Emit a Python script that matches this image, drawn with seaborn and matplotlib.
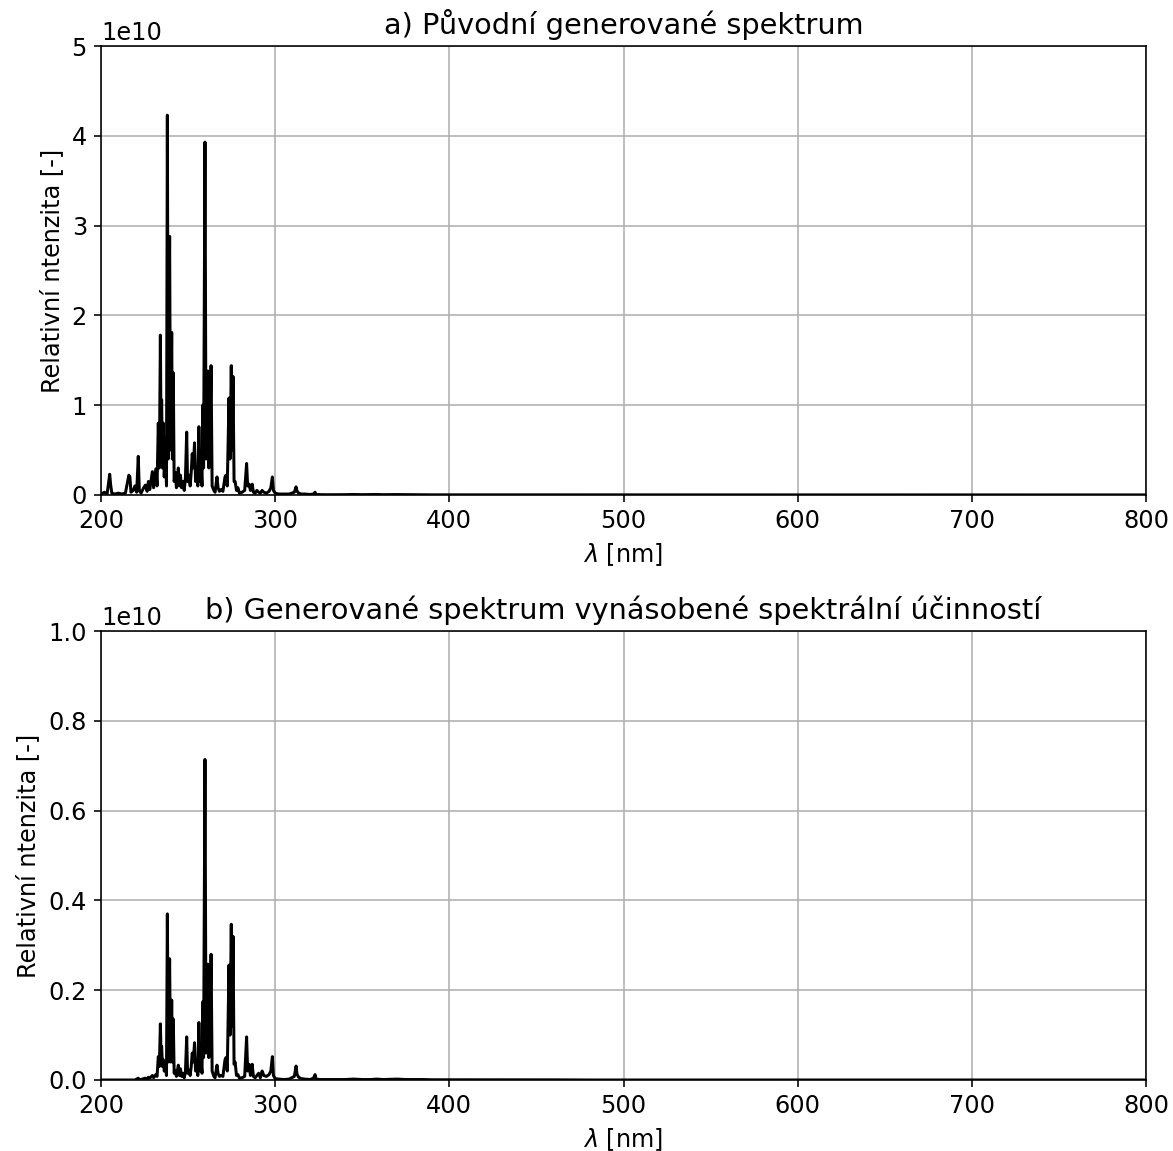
import numpy as np
import pandas as pd
import matplotlib
matplotlib.use("Agg")
import matplotlib.pyplot as plt
import seaborn as sns

# wavelength [nm] of the spectrum samples
wavelength = [
    200.0, 202.0, 203.5, 205.0, 205.5, 206.2, 208.0, 210.0, 212.0, 214.0,
    216.0, 216.6, 217.2, 218.5, 219.5, 220.5, 221.4, 222.0, 223.0, 224.5,
    225.5, 226.5, 227.2, 228.0, 229.5, 230.2, 231.5, 232.2, 232.9, 233.5,
    234.1, 234.5, 234.8, 235.3, 235.8, 236.3, 237.0, 237.6, 238.1, 238.6,
    239.4, 239.9, 240.6, 241.0, 241.5, 242.0, 242.7, 243.3, 244.4, 245.0,
    245.6, 246.3, 247.0, 247.8, 248.5, 249.2, 249.7, 250.5, 251.2, 251.8,
    252.4, 253.0, 253.7, 254.3, 255.0, 255.6, 256.2, 256.8, 257.5, 258.0,
    258.4, 258.9, 259.7, 260.3, 261.4, 261.9, 262.5, 263.2, 263.8, 264.8,
    265.5, 266.6, 267.2, 268.0, 269.0, 270.0, 271.2, 271.8, 272.5, 273.5,
    274.1, 274.8, 275.3, 275.8, 276.4, 277.0, 277.8, 278.6, 279.5, 281.0,
    282.5, 283.6, 284.2, 285.0, 285.8, 286.8, 287.5, 288.5, 289.5, 290.5,
    291.5, 292.5, 293.5, 295.0, 296.5, 297.5, 298.4, 299.0, 300.0, 302.0,
    305.0, 308.0, 311.0, 312.0, 312.6, 313.5, 315.0, 317.0, 320.0, 322.0,
    322.9, 323.5, 326.0, 330.0, 335.0, 340.0, 345.0, 350.0, 355.0, 358.0,
    362.0, 370.0, 375.0, 380.0, 385.0, 390.0, 400.0, 420.0, 440.0, 460.0,
    480.0, 500.0, 600.0, 700.0, 800.0,
]

# a) original generated spectrum [1e10]
intensity_a = [
    0.01, 0.03, 0.01, 0.23, 0.12, 0.02, 0.01, 0.02, 0.01, 0.02,
    0.22, 0.20, 0.03, 0.05, 0.10, 0.03, 0.43, 0.05, 0.02, 0.08,
    0.11, 0.04, 0.15, 0.06, 0.26, 0.08, 0.29, 0.10, 0.80, 0.30,
    1.78, 0.50, 1.06, 0.30, 0.80, 0.20, 0.50, 0.10, 4.23, 0.40,
    2.88, 0.50, 1.81, 0.40, 1.36, 0.15, 0.25, 0.08, 0.30, 0.10,
    0.22, 0.08, 0.15, 0.05, 0.20, 0.70, 0.15, 0.22, 0.10, 0.25,
    0.46, 0.30, 0.58, 0.15, 0.25, 0.10, 0.76, 0.15, 0.30, 0.10,
    1.00, 0.30, 3.93, 0.40, 1.38, 0.30, 0.60, 1.44, 0.10, 0.05,
    0.03, 0.20, 0.08, 0.04, 0.06, 0.04, 0.20, 0.22, 0.10, 1.08,
    0.40, 1.44, 0.50, 1.32, 0.15, 0.15, 0.05, 0.08, 0.02, 0.03,
    0.05, 0.35, 0.10, 0.12, 0.05, 0.12, 0.03, 0.02, 0.05, 0.03,
    0.02, 0.05, 0.03, 0.02, 0.04, 0.08, 0.20, 0.05, 0.02, 0.01,
    0.01, 0.01, 0.03, 0.09, 0.04, 0.02, 0.01, 0.01, 0.005, 0.01,
    0.03, 0.005, 0.003, 0.002, 0.002, 0.003, 0.005, 0.003, 0.004, 0.005,
    0.003, 0.004, 0.003, 0.002, 0.002, 0.001, 0.001, 0.001, 0.0005, 0.0005,
    0.0, 0.0, 0.0, 0.0, 0.0,
]

# b) generated spectrum multiplied by spectral efficiency [1e10]
intensity_b = [
    0.0, 0.0, 0.0, 0.0, 0.0, 0.0, 0.0, 0.0, 0.0, 0.0,
    0.0, 0.0, 0.0, 0.0, 0.0, 0.002, 0.004, 0.001, 0.001, 0.003,
    0.004, 0.002, 0.006, 0.004, 0.010, 0.005, 0.012, 0.008, 0.052, 0.030,
    0.125, 0.050, 0.075, 0.030, 0.045, 0.020, 0.030, 0.010, 0.370, 0.040,
    0.270, 0.040, 0.178, 0.040, 0.136, 0.015, 0.020, 0.008, 0.033, 0.010,
    0.025, 0.008, 0.015, 0.005, 0.020, 0.096, 0.015, 0.022, 0.010, 0.030,
    0.060, 0.040, 0.083, 0.020, 0.030, 0.010, 0.128, 0.020, 0.040, 0.015,
    0.174, 0.050, 0.714, 0.060, 0.258, 0.050, 0.100, 0.280, 0.020, 0.008,
    0.005, 0.033, 0.015, 0.008, 0.010, 0.008, 0.045, 0.050, 0.020, 0.256,
    0.100, 0.347, 0.120, 0.320, 0.035, 0.040, 0.010, 0.012, 0.004, 0.005,
    0.008, 0.096, 0.020, 0.035, 0.010, 0.035, 0.008, 0.005, 0.010, 0.015,
    0.005, 0.020, 0.010, 0.008, 0.012, 0.020, 0.052, 0.010, 0.003, 0.002,
    0.001, 0.002, 0.008, 0.031, 0.012, 0.006, 0.003, 0.002, 0.001, 0.004,
    0.012, 0.002, 0.001, 0.001, 0.001, 0.001, 0.002, 0.001, 0.001, 0.002,
    0.001, 0.002, 0.001, 0.001, 0.001, 0.0005, 0.0005, 0.0005, 0.0003, 0.0003,
    0.0, 0.0, 0.0, 0.0, 0.0,
]

titles = ["a) Původní generované spektrum",
          "b) Generované spektrum vynásobené spektrální účinností"]
y_limits = [5e10, 1e10]


def plot_spectrum(ax, df, column, title, ymax):
    sns.lineplot(data=df, x="wavelength", y=column, ax=ax, color="black",
                 linewidth=1.5, estimator=None, sort=False)
    ax.set_xlim(200, 800)
    ax.set_ylim(0, ymax)
    ax.set_title(title, fontsize=14.4)
    ax.set_xlabel(r"$\lambda$ [nm]")
    ax.set_ylabel("Relativní ntenzita [-]")
    ax.grid(True, color="#b0b0b0", linewidth=0.8)
    ax.set_axisbelow(True)


def main():
    plt.rcParams["font.size"] = 12

    df = pd.DataFrame({
        "wavelength": wavelength,
        "a": np.array(intensity_a) * 1e10,
        "b": np.array(intensity_b) * 1e10,
    })

    fig = plt.figure(figsize=(1173 / 144, 1151 / 144), dpi=144)
    ax1 = fig.add_axes([0.0861, 0.570, 0.8909, 0.390])
    ax2 = fig.add_axes([0.0861, 0.0617, 0.8909, 0.390])

    plot_spectrum(ax1, df, "a", titles[0], y_limits[0])
    plot_spectrum(ax2, df, "b", titles[1], y_limits[1])

    fig.savefig("out.png", dpi=144)


if __name__ == "__main__":
    main()
